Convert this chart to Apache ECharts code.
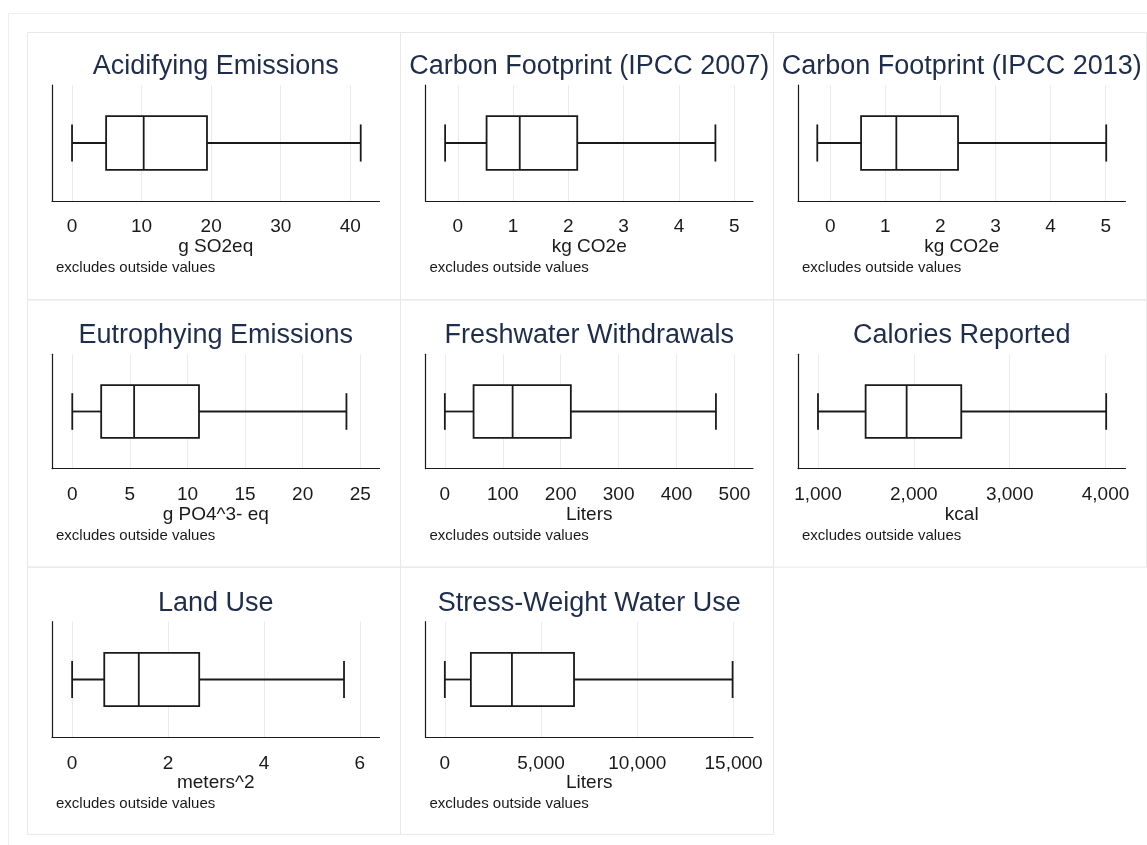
<!DOCTYPE html>
<html><head><meta charset="utf-8">
<script src="https://cdn.jsdelivr.net/npm/echarts@6/dist/echarts.min.js"></script>
<style>html,body{margin:0;padding:0;background:#fff}#c{width:1147px;height:845px}</style>
</head><body><div id="c"></div>
<script>
// ---------- data ----------
const titles = ['Acidifying Emissions', 'Carbon Footprint (IPCC 2007)', 'Carbon Footprint (IPCC 2013)',
  'Eutrophying Emissions', 'Freshwater Withdrawals', 'Calories Reported',
  'Land Use', 'Stress-Weight Water Use'];
const units = ['g SO2eq', 'kg CO2e', 'kg CO2e', 'g PO4^3- eq', 'Liters', 'kcal', 'meters^2', 'Liters'];
const whiskerLow  = [0,     -0.23, -0.235, 0,     0,     1000, 0,    0];
const q1          = [4.9,    0.52,  0.56,  2.51,  49.6,  1497, 0.67, 1353];
const median      = [10.3,   1.12,  1.20,  5.37,  117,   1925, 1.39, 3486];
const q3          = [19.4,   2.16,  2.32,  11.0,  217.5, 2495, 2.65, 6712];
const whiskerHigh = [41.5,   4.66,  5.01,  23.8,  468,   4007, 5.67, 14950];
const axisMin = [-2.88, -0.585, -0.585, -1.76, -33.4, 791.5, -0.42, -1004];
const axisMax = [44.2,   5.34,   5.36,  26.67, 532,   4208.5, 6.41, 16010];
const tickValues = [
  [0, 10, 20, 30, 40],
  [0, 1, 2, 3, 4, 5],
  [0, 1, 2, 3, 4, 5],
  [0, 5, 10, 15, 20, 25],
  [0, 100, 200, 300, 400, 500],
  [1000, 2000, 3000, 4000],
  [0, 2, 4, 6],
  [0, 5000, 10000, 15000]
];
const noteText = 'excludes outside values';

// ---------- layout / style ----------
const FONT = '"Liberation Sans", Arial, Helvetica, sans-serif';
const INK = '#1a1a1a';
const TITLE_COLOR = '#1f2d4d';
const colLeft = [52, 425.5, 798];
const plotW = 327.5;
const rowTop = [85, 354.3, 621.7];
const rowBot = [201, 468.7, 737.3];

const grids = [], xAxes = [], yAxes = [], series = [], titleList = [], graphics = [];

graphics.push({type: 'rect', shape: {x: 8.5, y: 13.5, width: 1150, height: 845},
  style: {fill: 'none', stroke: '#eeeeee', lineWidth: 1}, silent: true, z: -10});

titles.forEach((t, i) => {
  const col = i % 3, row = Math.floor(i / 3);
  const left = colLeft[col], top = rowTop[row], bottom = rowBot[row];
  graphics.push({type: 'rect', shape: {x: 27.5 + col * 373, y: 32.5 + row * 267.3, width: 373, height: 267.3},
    style: {fill: 'none', stroke: '#e8e8e8', lineWidth: 1}, silent: true, z: -9});
  grids.push({left: left, top: top, width: plotW, height: bottom - top});
  xAxes.push({
    type: 'value', gridIndex: i, min: axisMin[i], max: axisMax[i],
    axisLine: {show: true, onZero: false, lineStyle: {color: INK, width: 1.2}},
    axisTick: {show: false, customValues: tickValues[i]},
    axisLabel: {customValues: tickValues[i], fontSize: 19, fontFamily: FONT, color: INK, margin: 16.5,
      formatter: v => Number(v).toLocaleString('en-US')},
    splitLine: {show: true, lineStyle: {color: '#ebebeb', width: 1}},
    name: units[i], nameLocation: 'middle', nameGap: 35.5,
    nameTextStyle: {fontSize: 19, fontFamily: FONT, color: INK}
  });
  yAxes.push({
    type: 'category', gridIndex: i, data: ['v'],
    axisLine: {show: true, onZero: false, lineStyle: {color: INK, width: 1.2}},
    axisTick: {show: false}, axisLabel: {show: false}, splitLine: {show: false}
  });
  series.push({
    type: 'custom', xAxisIndex: i, yAxisIndex: i,
    encode: {x: [1, 2, 3, 4, 5], y: 0},
    data: [[0, whiskerLow[i], q1[i], median[i], q3[i], whiskerHigh[i]]],
    renderItem: function (params, api) {
      const c = api.value(0);
      const lo = api.coord([api.value(1), c]);
      const b1 = api.coord([api.value(2), c]);
      const md = api.coord([api.value(3), c]);
      const b3 = api.coord([api.value(4), c]);
      const hi = api.coord([api.value(5), c]);
      const band = api.size([0, 1])[1];
      const bh = band * 0.231, ch = band * 0.16, cy = lo[1];
      const st = {stroke: INK, lineWidth: 1.8, fill: 'none'};
      return {type: 'group', children: [
        {type: 'line', shape: {x1: lo[0], y1: cy, x2: b1[0], y2: cy}, style: st},
        {type: 'line', shape: {x1: b3[0], y1: cy, x2: hi[0], y2: cy}, style: st},
        {type: 'line', shape: {x1: lo[0], y1: cy - ch, x2: lo[0], y2: cy + ch}, style: st},
        {type: 'line', shape: {x1: hi[0], y1: cy - ch, x2: hi[0], y2: cy + ch}, style: st},
        {type: 'rect', shape: {x: b1[0], y: cy - bh, width: b3[0] - b1[0], height: 2 * bh},
          style: {stroke: INK, lineWidth: 1.8, fill: '#ffffff'}},
        {type: 'line', shape: {x1: md[0], y1: cy - bh, x2: md[0], y2: cy + bh}, style: st}
      ]};
    },
    silent: true, animation: false
  });
  titleList.push({text: t, left: left + plotW / 2, top: top - 32, textAlign: 'center', padding: 0,
    textStyle: {fontSize: 27, fontWeight: 'normal', fontFamily: FONT, color: TITLE_COLOR}});
  titleList.push({text: noteText, left: left + 4, top: bottom + 59.5, padding: 0,
    textStyle: {fontSize: 15, fontWeight: 'normal', fontFamily: FONT, color: INK}});
});

const chart = echarts.init(document.getElementById('c'), null, {renderer: 'canvas'});
chart.setOption({
  backgroundColor: '#ffffff',
  animation: false,
  title: titleList,
  grid: grids,
  xAxis: xAxes,
  yAxis: yAxes,
  series: series,
  graphic: graphics
});
</script></body></html>
